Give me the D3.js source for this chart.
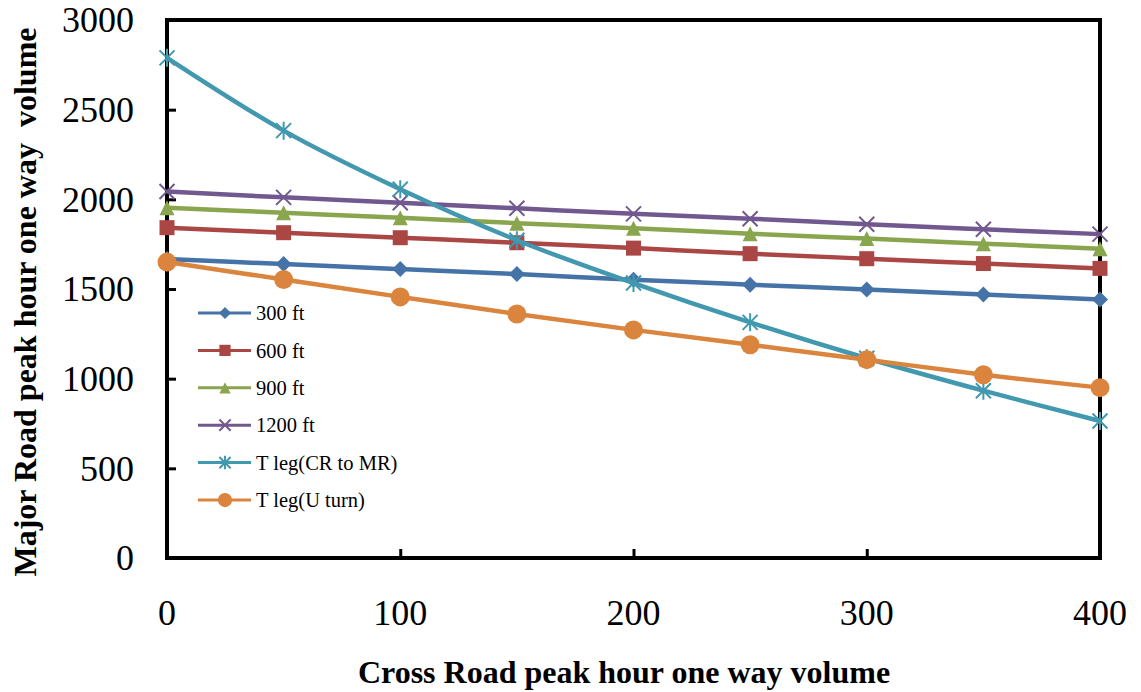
<!DOCTYPE html>
<html>
<head>
<meta charset="utf-8">
<script src="https://cdn.jsdelivr.net/npm/d3@7"></script>
<style>
  html, body { margin: 0; padding: 0; background: #fff; }
  svg { display: block; }
  text { font-family: "Liberation Serif", "Times New Roman", serif; fill: #000; }
</style>
</head>
<body>
<svg id="chart" width="1141" height="692"></svg>
<script>
// Cross road peak hour one way volume (x)
const crossVolume = [0, 50, 100, 150, 200, 250, 300, 350, 400];

// Major road peak hour one way volume for each case
const ft300   = [1667, 1639, 1611, 1583, 1552, 1524, 1497, 1469, 1442];
const ft600   = [1842, 1814, 1786, 1758, 1728, 1697, 1669, 1642, 1615];
const ft900   = [1953, 1925, 1897, 1867, 1839, 1808, 1781, 1753, 1725];
const ft1200  = [2044, 2011, 1981, 1950, 1919, 1892, 1861, 1833, 1806];
const tlegCR  = [2789, 2383, 2056, 1772, 1533, 1314, 1114, 933, 764];
const tlegU   = [1650, 1553, 1456, 1361, 1272, 1189, 1106, 1022, 950];

const seriesNames = ["300 ft", "600 ft", "900 ft", "1200 ft", "T leg(CR to MR)", "T leg(U turn)"];
const seriesValues = [ft300, ft600, ft900, ft1200, tlegCR, tlegU];
const seriesColors = ["#4572A7", "#AA4643", "#89A54E", "#71588F", "#4198AF", "#DB843D"];
const seriesMarkers = ["diamond", "square", "triangle", "cross", "asterisk", "circle"];

const xTicks = [0, 100, 200, 300, 400];
const yTicks = [0, 500, 1000, 1500, 2000, 2500, 3000];

const plotLeft = 167, plotRight = 1100, plotTop = 20, plotBottom = 558;

const svg = d3.select("#chart");
const x = d3.scaleLinear().domain([0, 400]).range([plotLeft, plotRight]);
const y = d3.scaleLinear().domain([0, 3000]).range([plotBottom, plotTop]);

// marker path builders (centered at 0,0)
function markerPath(type, s) {
  const h = s / 2;
  switch (type) {
    case "diamond":
      return `M0,${-h}L${h},0L0,${h}L${-h},0Z`;
    case "square":
      return `M${-h},${-h}H${h}V${h}H${-h}Z`;
    case "triangle":
      return `M0,${-h}L${h},${h}L${-h},${h}Z`;
    case "cross":
      return `M${-h},${-h}L${h},${h}M${h},${-h}L${-h},${h}`;
    case "asterisk":
      return `M${-h},${-h}L${h},${h}M${h},${-h}L${-h},${h}M0,${-h * 1.2}V${h * 1.2}`;
    case "circle":
      return d3.arc()({innerRadius: 0, outerRadius: h, startAngle: 0, endAngle: 2 * Math.PI});
  }
}
const markerSize = {diamond: 16, square: 15, triangle: 15, cross: 15, asterisk: 15, circle: 19};
const isStroked = t => t === "cross" || t === "asterisk";

// axis frame and ticks
const frame = svg.append("g");
frame.append("rect")
  .attr("x", plotLeft).attr("y", plotTop)
  .attr("width", plotRight - plotLeft).attr("height", plotBottom - plotTop)
  .attr("fill", "none").attr("stroke", "#000").attr("stroke-width", 4);

const yAxis = d3.axisRight(y).tickValues(yTicks).tickSize(9).tickFormat("");
frame.append("g").attr("transform", `translate(${plotLeft},0)`).call(yAxis)
  .call(g => g.select(".domain").remove())
  .call(g => g.selectAll("line").attr("stroke", "#000").attr("stroke-width", 3));

const xAxis = d3.axisTop(x).tickValues(xTicks).tickSize(9).tickFormat("");
frame.append("g").attr("transform", `translate(0,${plotBottom})`).call(xAxis)
  .call(g => g.select(".domain").remove())
  .call(g => g.selectAll("line").attr("stroke", "#000").attr("stroke-width", 3));

// tick labels
svg.append("g").selectAll("text").data(yTicks).join("text")
  .attr("x", 134).attr("y", d => y(d))
  .attr("dy", "0.34em")
  .attr("text-anchor", "end")
  .attr("font-size", 36)
  .text(d => d);

svg.append("g").selectAll("text").data(xTicks).join("text")
  .attr("x", d => x(d)).attr("y", 625)
  .attr("text-anchor", "middle")
  .attr("font-size", 36)
  .text(d => d);

// axis titles
svg.append("text")
  .attr("x", 624).attr("y", 683)
  .attr("text-anchor", "middle")
  .attr("font-size", 32).attr("font-weight", "bold")
  .text("Cross Road peak hour one way volume");

svg.append("text")
  .attr("transform", "translate(36,302) rotate(-90)")
  .attr("text-anchor", "middle")
  .attr("font-size", 32).attr("font-weight", "bold")
  .style("white-space", "pre")
  .text("Major Road peak hour one way  volume");

// series
const line = d3.line()
  .x((d, i) => x(crossVolume[i]))
  .y(d => y(d))
  .curve(d3.curveCatmullRom.alpha(0));

const plot = svg.append("g");
seriesValues.forEach((vals, k) => {
  const g = plot.append("g");
  const col = seriesColors[k];
  const mk = seriesMarkers[k];
  g.append("path")
    .attr("d", line(vals))
    .attr("fill", "none")
    .attr("stroke", col)
    .attr("stroke-width", 4.5)
    .attr("stroke-linejoin", "round");
  g.selectAll("path.m").data(vals).join("path")
    .attr("class", "m")
    .attr("transform", (d, i) => `translate(${x(crossVolume[i])},${y(d)})`)
    .attr("d", markerPath(mk, markerSize[mk]))
    .attr("fill", isStroked(mk) ? "none" : col)
    .attr("stroke", isStroked(mk) ? col : "none")
    .attr("stroke-width", isStroked(mk) ? 2 : 0);
});

// legend
const legend = svg.append("g");
const legY0 = 313, legStep = 37.4;
seriesNames.forEach((name, k) => {
  const yy = legY0 + k * legStep;
  const col = seriesColors[k];
  const mk = seriesMarkers[k];
  const g = legend.append("g");
  g.append("line")
    .attr("x1", 198).attr("x2", 251).attr("y1", yy).attr("y2", yy)
    .attr("stroke", col).attr("stroke-width", 3);
  g.append("path")
    .attr("transform", `translate(225,${yy})`)
    .attr("d", markerPath(mk, markerSize[mk] * 0.75))
    .attr("fill", isStroked(mk) ? "none" : col)
    .attr("stroke", isStroked(mk) ? col : "none")
    .attr("stroke-width", isStroked(mk) ? 2 : 0);
  g.append("text")
    .attr("x", 256).attr("y", yy).attr("dy", "0.35em")
    .attr("font-size", 20.5)
    .text(name);
});
</script>
</body>
</html>
